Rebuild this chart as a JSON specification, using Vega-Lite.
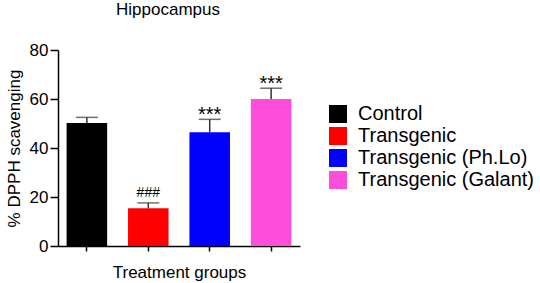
{
  "$schema": "https://vega.github.io/schema/vega-lite/v6.json",
  "autosize": "none",
  "width": 242,
  "height": 196,
  "padding": {"left": 58, "top": 50, "right": 240, "bottom": 37},
  "background": "white",
  "title": {"text": "Hippocampus", "font": "Liberation Sans", "fontSize": 17, "fontWeight": "normal", "color": "black", "anchor": "middle", "dx": -11, "offset": 22},
  "config": {
    "view": {"stroke": null},
    "font": "Liberation Sans"
  },
  "data": {"values": [
    {"group": "Control", "value": 50.2, "upper": 52.5, "sig": ""},
    {"group": "Transgenic", "value": 15.4, "upper": 17.6, "sig": "###"},
    {"group": "Transgenic (Ph.Lo)", "value": 46.4, "upper": 51.7, "sig": "***"},
    {"group": "Transgenic (Galant)", "value": 60.0, "upper": 64.4, "sig": "***"}
  ]},
  "encoding": {
    "x": {"field": "group", "type": "nominal", "sort": null,
      "scale": {"paddingInner": 0.34, "paddingOuter": 0.14},
      "axis": {"labels": false, "title": "Treatment groups", "titleFontSize": 17, "titleFontWeight": "normal", "titleColor": "black", "titlePadding": 13, "tickSize": 5, "tickColor": "black", "tickWidth": 1.5, "domainColor": "black", "domainWidth": 1.5, "grid": false}
    }
  },
  "layer": [
    {
      "mark": {"type": "bar"},
      "encoding": {
        "y": {"field": "value", "type": "quantitative",
          "scale": {"domain": [0, 80], "nice": false},
          "axis": {"values": [0, 20, 40, 60, 80], "title": "% DPPH scavenging", "titleFontSize": 17, "titleFontWeight": "normal", "titleColor": "black", "titlePadding": 6, "labelFontSize": 17, "labelColor": "black", "labelPadding": 2, "tickSize": 8, "tickColor": "black", "tickWidth": 1.5, "domainColor": "black", "domainWidth": 1.5, "grid": false}
        },
        "color": {"field": "group", "type": "nominal", "sort": null,
          "scale": {"domain": ["Control", "Transgenic", "Transgenic (Ph.Lo)", "Transgenic (Galant)"], "range": ["#000000", "#ff0000", "#0000ff", "#ff4ddb"]},
          "legend": {"title": null, "orient": "none", "legendX": 270, "legendY": 54, "symbolType": "square", "symbolSize": 324, "symbolStrokeWidth": 0, "labelFontSize": 20, "labelColor": "black", "rowPadding": 2, "labelOffset": 10, "labelLimit": 300}
        }
      }
    },
    {
      "mark": {"type": "rule", "color": "#333333", "strokeWidth": 1.5},
      "encoding": {
        "y": {"field": "value", "type": "quantitative"},
        "y2": {"field": "upper"}
      }
    },
    {
      "mark": {"type": "tick", "color": "#333333", "thickness": 1.5, "size": 22, "orient": "horizontal"},
      "encoding": {
        "y": {"field": "upper", "type": "quantitative"}
      }
    },
    {
      "transform": [{"filter": "datum.sig === '###'"}],
      "mark": {"type": "text", "baseline": "alphabetic", "dy": -6, "fontSize": 14, "color": "black"},
      "encoding": {
        "y": {"field": "upper", "type": "quantitative"},
        "text": {"field": "sig"}
      }
    },
    {
      "transform": [{"filter": "datum.sig === '***'"}],
      "mark": {"type": "text", "baseline": "alphabetic", "dy": 2, "fontSize": 20, "color": "black"},
      "encoding": {
        "y": {"field": "upper", "type": "quantitative"},
        "text": {"field": "sig"}
      }
    }
  ]
}
